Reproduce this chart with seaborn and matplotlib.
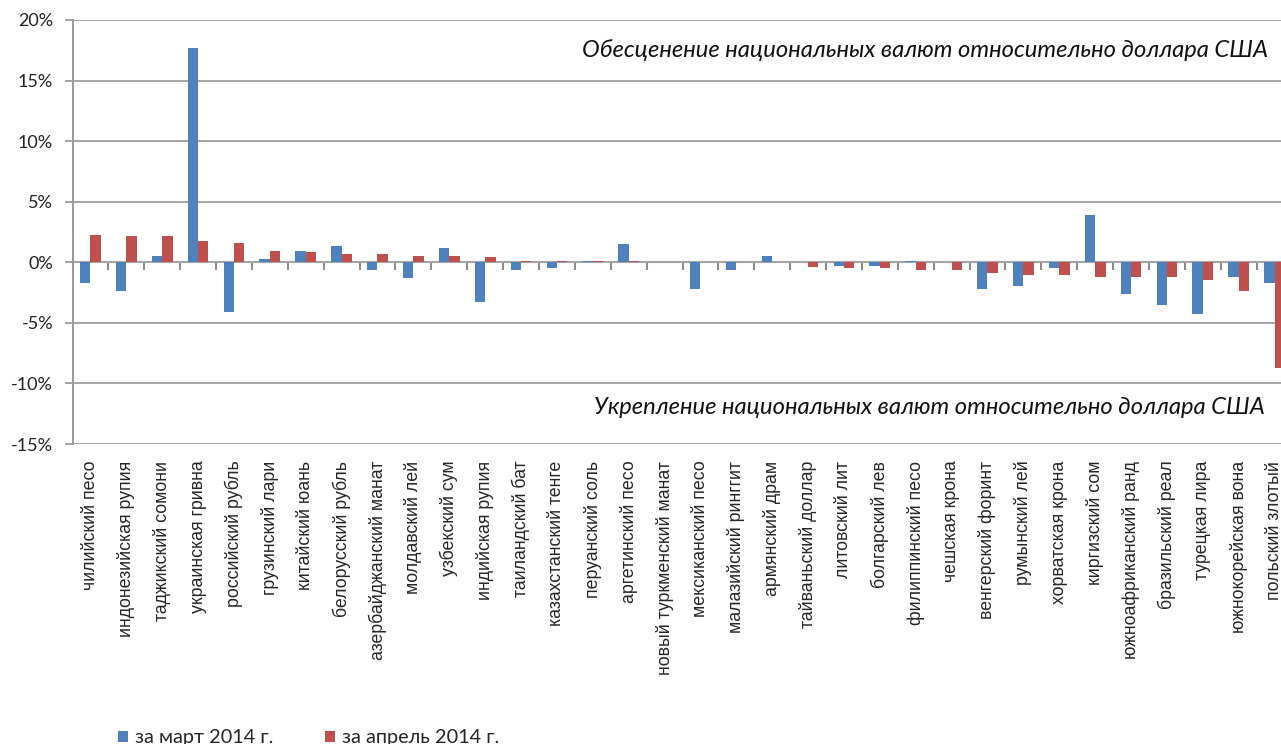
import numpy as np
import pandas as pd
import matplotlib
matplotlib.use("Agg")
import matplotlib.pyplot as plt
import seaborn as sns
from matplotlib.patches import Patch

currencies = [
    "чилийский песо", "индонезийская рупия", "таджикский сомони", "украинская гривна",
    "российский рубль", "грузинский лари", "китайский юань", "белорусский рубль",
    "азербайджанский манат", "молдавский лей", "узбекский сум", "индийская рупия",
    "таиландский бат", "казахстанский тенге", "перуанский соль", "аргетинский песо",
    "новый туркменский манат", "мексиканский песо", "малазийский ринггит", "армянский драм",
    "тайваньский доллар", "литовский лит", "болгарский лев", "филиппинский песо",
    "чешская крона", "венгерский форинт", "румынский лей", "хорватская крона",
    "киргизский сом", "южноафриканский ранд", "бразильский реал", "турецкая лира",
    "южнокорейская вона", "польский злотый",
]
march = [
    -1.68, -2.33, 0.55, 17.7, -4.07, 0.30, 0.96, 1.35, -0.63, -1.29, 1.21, -3.30,
    -0.63, -0.50, 0.14, 1.48, 0.0, -2.22, -0.63, 0.55, 0.0, -0.30, -0.30, 0.14,
    0.0, -2.22, -1.95, -0.50, 3.87, -2.64, -3.54, -4.23, -1.18, -1.68,
]
april = [
    2.28, 2.14, 2.14, 1.76, 1.62, 0.96, 0.82, 0.69, 0.69, 0.55, 0.55, 0.41,
    0.14, 0.14, 0.14, 0.14, 0.0, 0.0, 0.0, 0.0, -0.36, -0.50, -0.50, -0.63,
    -0.63, -0.90, -1.04, -1.04, -1.18, -1.18, -1.18, -1.43, -2.33, -8.76,
]
series_names = ["за март 2014 г.", "за апрель 2014 г."]
y_ticks = [-15, -10, -5, 0, 5, 10, 15, 20]
note_top = "Обесценение национальных валют относительно доллара США"
note_bottom = "Укрепление национальных валют относительно доллара США"

colors = ["#4F81BD", "#C0504D"]

df = pd.DataFrame({
    "currency": currencies * 2,
    "value": march + april,
    "period": [series_names[0]] * len(currencies) + [series_names[1]] * len(currencies),
})

sns.set_style("white")
plt.rcParams["font.family"] = ["Liberation Sans", "DejaVu Sans"]

fig = plt.figure(figsize=(12.81, 7.44), dpi=100)
W, H = 1281, 744
ax = fig.add_axes([72.5 / W, (H - 444) / H, 1220 / W, 424 / H])

sns.barplot(data=df, x="currency", y="value", hue="period", palette=colors,
            width=0.58, gap=0, dodge=True, ax=ax, legend=False, saturation=1,
            linewidth=0)

n = len(currencies)
ax.set_xlim(-0.5, n - 0.5)
ax.set_ylim(y_ticks[0], y_ticks[-1])
ax.set_yticks(y_ticks)
ax.set_yticklabels([f"{t}%" for t in y_ticks], fontfamily="Lato", fontsize=13, color="#222222")
ax.tick_params(axis="y", length=6, width=1.3, color="#999999", pad=8, direction="out", left=True)
ax.grid(axis="y", color="#a6a6a6", linewidth=1.4)
ax.set_axisbelow(True)

ax.set_xticks(range(n))
ax.set_xticklabels(currencies, rotation=90, fontsize=12.8, va="top", ha="center")
ax.tick_params(axis="x", length=0, pad=12, bottom=False)
ax.set_xlabel("")
ax.set_ylabel("")

for s in ["top", "right", "bottom"]:
    ax.spines[s].set_visible(False)
ax.spines["left"].set_color("#999999")
ax.spines["left"].set_linewidth(1.4)

# zero axis with category tick marks
ax.axhline(0, color="#8c8c8c", linewidth=1.5, zorder=0.5)
ax.vlines(np.arange(n + 1) - 0.5, 0, -0.6, color="#8c8c8c", linewidth=1.5, zorder=0.5)

ax.text(0.980, 0.929, note_top, transform=ax.transAxes, ha="right", va="center",
        fontsize=17.1, fontstyle="italic", fontfamily="Lato", color="#111111")
ax.text(0.9775, 0.087, note_bottom, transform=ax.transAxes, ha="right", va="center",
        fontsize=17.1, fontstyle="italic", fontfamily="Lato", color="#111111")

handles = [Patch(facecolor=c, edgecolor="none") for c in colors]
fig.legend(handles, series_names, loc="center left",
           bbox_to_anchor=(118 / W, 1 - 738 / H), ncol=2, frameon=False,
           prop={"family": "Lato", "size": 14.3}, handlelength=0.5, handleheight=0.5,
           handletextpad=0.35, columnspacing=2.6, borderpad=0, borderaxespad=0)

fig.savefig("out.png", dpi=100)
